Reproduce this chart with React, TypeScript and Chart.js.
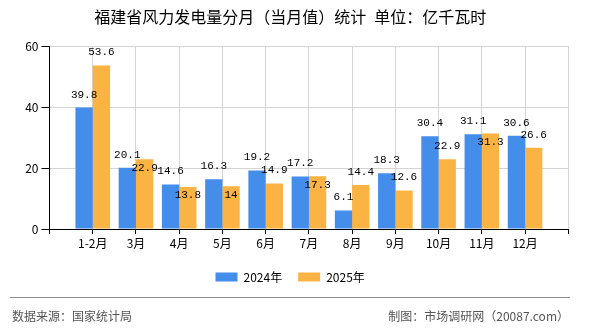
import React, { useEffect, useRef } from 'react';
import { Chart, registerables } from 'chart.js';

Chart.register(...registerables);

const titleText = '福建省风力发电量分月（当月值）统计\u2002单位：亿千瓦时';
const categories = ['1-2月', '3月', '4月', '5月', '6月', '7月', '8月', '9月', '10月', '11月', '12月'];
const series2024 = [39.8, 20.1, 14.6, 16.3, 19.2, 17.2, 6.1, 18.3, 30.4, 31.1, 30.6];
const series2025 = [53.6, 22.9, 13.8, 14, 14.9, 17.3, 14.4, 12.6, 22.9, 31.3, 26.6];
const seriesNames = ['2024年', '2025年'];
const yMin = 0;
const yMax = 60;
const yStep = 20;
const sourceText = '数据来源：国家统计局';
const creditText = '制图：市场调研网（20087.com）';

const BLUE = '#458DEB';
const ORANGE = '#FBB343';
const CJK = "'Noto Sans CJK SC', sans-serif";

const valueLabels = {
  id: 'valueLabels',
  afterDatasetsDraw(chart: any) {
    const ctx = chart.ctx;
    const m0 = chart.getDatasetMeta(0);
    const m1 = chart.getDatasetMeta(1);
    ctx.save();
    ctx.font = "11px 'Liberation Mono', monospace";
    ctx.fillStyle = '#000';
    ctx.textAlign = 'center';
    ctx.textBaseline = 'middle';
    for (let i = 0; i < categories.length; i++) {
      const idx = i + 1;
      const b0 = m0.data[idx];
      const b1 = m1.data[idx];
      if (!b0 || !b1) continue;
      const y0 = b0.y - 13;
      ctx.fillText(String(series2024[i]), b0.x, y0);
      let y1 = b1.y - 13;
      if (Math.abs(y1 - y0) < 12) y1 = b1.y + 8.5;
      ctx.fillText(String(series2025[i]), b1.x, y1);
    }
    ctx.restore();
  },
};

const footer = {
  id: 'footer',
  afterDraw(chart: any) {
    const ctx = chart.ctx;
    ctx.save();
    ctx.strokeStyle = '#8a8a8a';
    ctx.lineWidth = 1;
    ctx.beginPath();
    ctx.moveTo(10, 297.5);
    ctx.lineTo(570, 297.5);
    ctx.stroke();
    ctx.font = '12px ' + CJK;
    ctx.fillStyle = '#555';
    ctx.textBaseline = 'middle';
    ctx.textAlign = 'left';
    ctx.fillText(sourceText, 12, 316);
    ctx.textAlign = 'right';
    ctx.fillText(creditText, 569, 316);
    ctx.restore();
  },
};

export default function App() {
  const ref = useRef<HTMLCanvasElement | null>(null);
  useEffect(() => {
    if (!ref.current) return;
    Chart.defaults.font.family = CJK;
    const labels = ['', ...categories, ''];
    const chart = new Chart(ref.current, {
      type: 'bar',
      data: {
        labels,
        datasets: [
          {
            label: seriesNames[0],
            data: [null, ...series2024, null],
            backgroundColor: BLUE,
            borderWidth: 0,
            categoryPercentage: 0.8,
            barPercentage: 1,
          },
          {
            label: seriesNames[1],
            data: [null, ...series2025, null],
            backgroundColor: ORANGE,
            borderWidth: 0,
            categoryPercentage: 0.8,
            barPercentage: 1,
          },
        ],
      },
      options: {
        responsive: false,
        animation: false,
        events: [],
        layout: { padding: { left: 12, right: 21.7, top: 0, bottom: 37 } },
        plugins: {
          title: {
            display: true,
            text: titleText,
            color: '#000',
            font: { size: 16, family: CJK, weight: 'normal' },
            padding: { top: 7.4, bottom: 19.4 },
          },
          legend: {
            display: true,
            position: 'bottom',
            labels: {
              boxWidth: 22,
              boxHeight: 9,
              padding: 16,
              color: '#000',
              font: { size: 12, family: CJK },
            },
          },
          tooltip: { enabled: false },
        },
        scales: {
          x: {
            type: 'category',
            offset: false,
            grid: { offset: false, color: '#d4d4d4', tickLength: 5, tickColor: '#000' },
            border: { color: '#000', width: 1 },
            ticks: { autoSkip: false, maxRotation: 0, minRotation: 0, color: '#000', padding: 2, font: { size: 12, family: CJK } },
            afterFit: (s: any) => { s.height = 26; },
          },
          y: {
            min: yMin,
            max: yMax,
            grid: { color: '#d4d4d4', tickLength: 8, tickColor: '#000' },
            border: { color: '#000', width: 1 },
            ticks: { stepSize: yStep, color: '#000', padding: 3, font: { size: 12, family: CJK } },
            afterFit: (s: any) => { s.width = 37.5; },
          },
        },
      },
      plugins: [valueLabels, footer],
    });
    return () => chart.destroy();
  }, []);
  return (
    <div style={{ position: 'fixed', left: 0, top: 0, width: 590, height: 330, background: '#fff' }}>
      <canvas ref={ref} width={590} height={330} style={{ width: 590, height: 330, display: 'block' }} />
    </div>
  );
}
